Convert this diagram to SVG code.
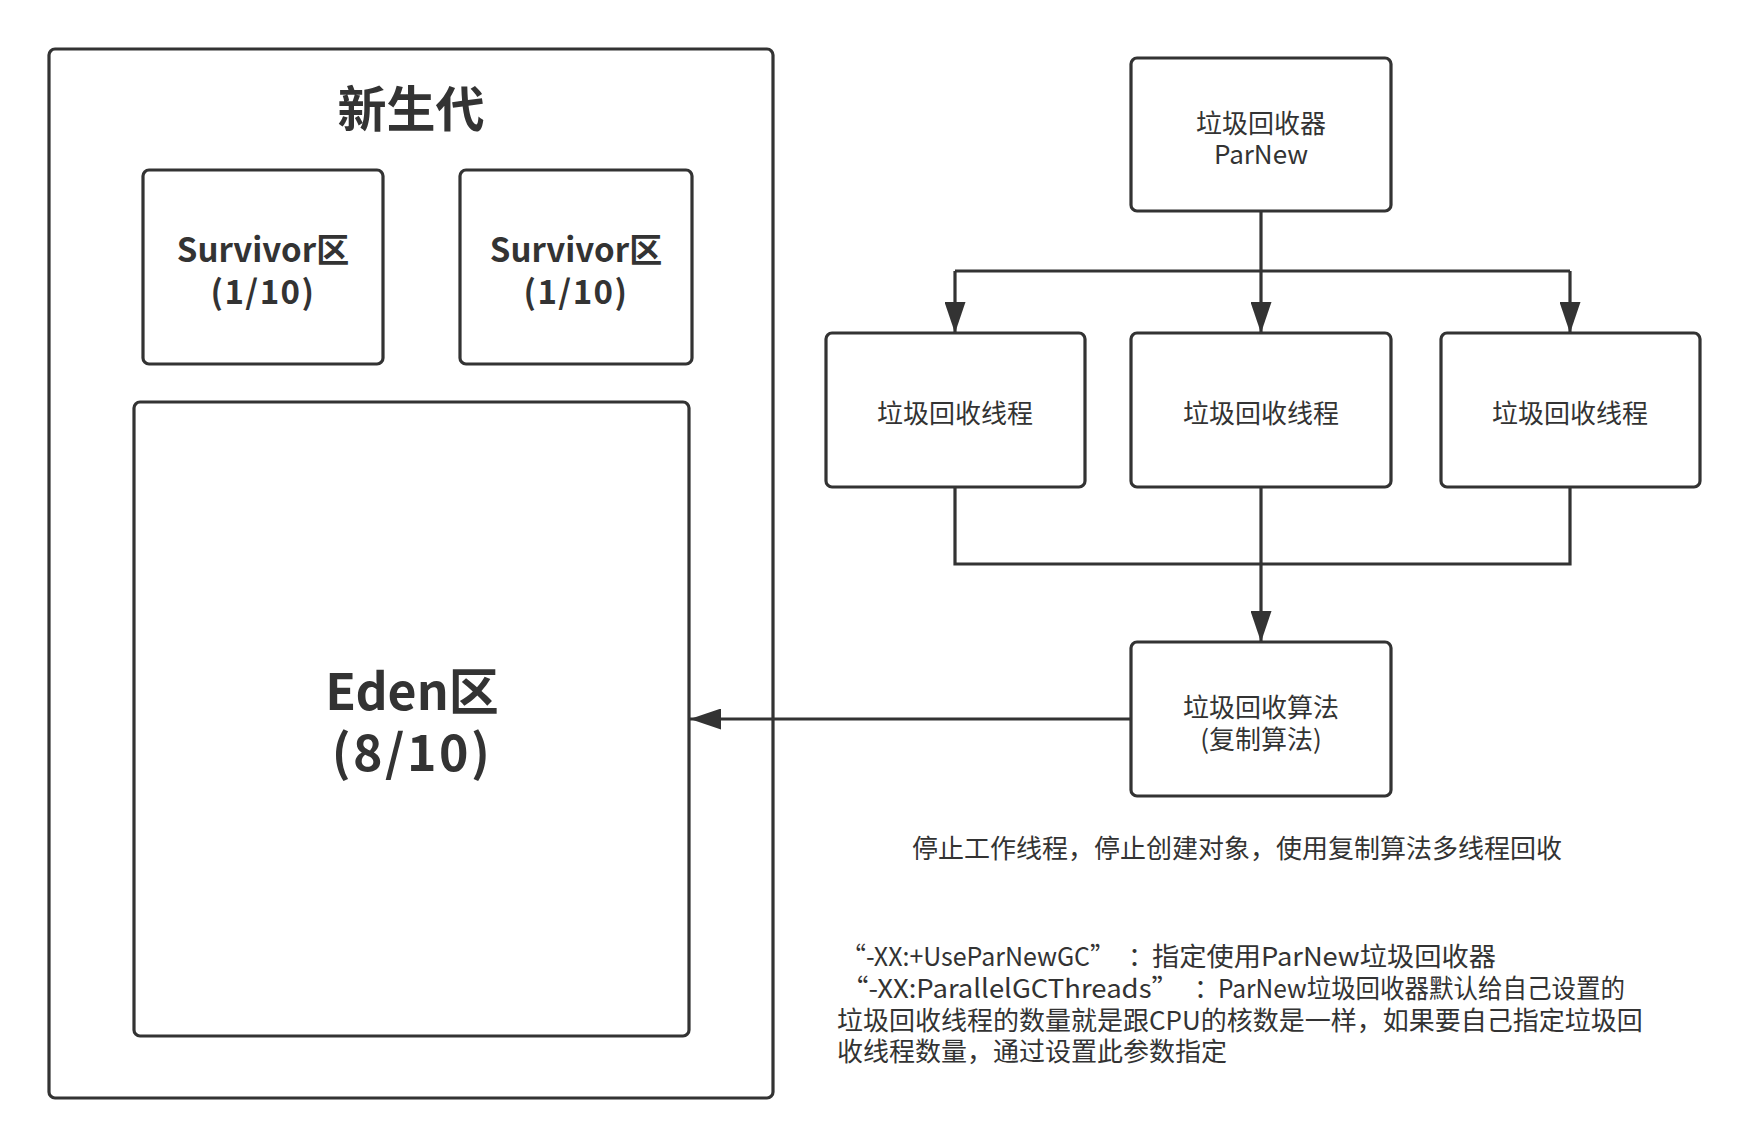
<svg xmlns="http://www.w3.org/2000/svg" width="1750" height="1148" viewBox="0 0 1750 1148">
<style>
.box{fill:#fff;stroke:#333;stroke-width:3.2}
.ln{fill:none;stroke:#333;stroke-width:3.2}
text{font-family:"Noto Sans CJK SC","Microsoft YaHei",sans-serif;fill:#333;text-anchor:middle;dominant-baseline:central}
.b{font-weight:bold}
.n{font-size:26px}
.l{text-anchor:start;font-size:26px}
</style>
<defs>
<marker id="ah" markerUnits="userSpaceOnUse" markerWidth="31" markerHeight="21" refX="31" refY="10.5" orient="auto">
<path d="M0,0 L31,10.5 L0,21 Z" fill="#333"/>
</marker>
</defs>
<rect width="1750" height="1148" fill="#fff"/>
<g id="young">
<rect class="box" x="49" y="49" width="724" height="1049" rx="6"/>
<text class="b" x="411" y="105" font-size="49">新生代</text>
</g>
<g id="survivor1">
<rect class="box" x="143" y="170" width="240" height="194" rx="6"/>
<text class="b" x="263" y="248" font-size="33">Survivor区</text>
<text class="b" x="263" y="290" font-size="33" letter-spacing="1.5">(1/10)</text>
</g>
<g id="survivor2">
<rect class="box" x="460" y="170" width="232" height="194" rx="6"/>
<text class="b" x="576" y="248" font-size="33">Survivor区</text>
<text class="b" x="576" y="290" font-size="33" letter-spacing="1.5">(1/10)</text>
</g>
<g id="eden">
<rect class="box" x="134" y="402" width="555" height="634" rx="6"/>
<text class="b" x="412" y="688" font-size="50">Eden区</text>
<text class="b" x="412" y="749" font-size="50" letter-spacing="2.5">(8/10)</text>
</g>
<g id="parnew">
<rect class="box" x="1131" y="58" width="260" height="153" rx="6"/>
<text class="n" x="1261" y="121">垃圾回收器</text>
<text class="n" x="1261" y="152">ParNew</text>
</g>
<g id="thread1">
<rect class="box" x="826" y="333" width="259" height="154" rx="6"/>
<text class="n" x="955" y="411">垃圾回收线程</text>
</g>
<g id="thread2">
<rect class="box" x="1131" y="333" width="260" height="154" rx="6"/>
<text class="n" x="1261" y="411">垃圾回收线程</text>
</g>
<g id="thread3">
<rect class="box" x="1441" y="333" width="259" height="154" rx="6"/>
<text class="n" x="1570" y="411">垃圾回收线程</text>
</g>
<g id="algo">
<rect class="box" x="1131" y="642" width="260" height="154" rx="6"/>
<text class="n" x="1261" y="705">垃圾回收算法</text>
<text class="n" x="1261" y="737">(复制算法)</text>
</g>
<g id="connectors">
<path class="ln" d="M1261,211 V271"/>
<path class="ln" d="M955,271 H1570"/>
<path class="ln" d="M955,271 V333" marker-end="url(#ah)"/>
<path class="ln" d="M1261,271 V333" marker-end="url(#ah)"/>
<path class="ln" d="M1570,271 V333" marker-end="url(#ah)"/>
<path class="ln" d="M955,487 V564 H1570 V487"/>
<path class="ln" d="M1261,487 V642" marker-end="url(#ah)"/>
<path class="ln" d="M1131,719 H690" marker-end="url(#ah)"/>
</g>
<g id="notes">
<text class="n" x="1237" y="846">停止工作线程，停止创建对象，使用复制算法多线程回收</text>
<text class="l" y="954"><tspan x="841" textLength="274" lengthAdjust="spacingAndGlyphs">“-XX:+UseParNewGC”</tspan><tspan x="1128">：</tspan><tspan x="1152" textLength="344" lengthAdjust="spacingAndGlyphs">指定使用ParNew垃圾回收器</tspan></text>
<text class="l" y="986"><tspan x="841" textLength="338" lengthAdjust="spacingAndGlyphs">“-XX:ParallelGCThreads”</tspan><tspan x="1194">：</tspan><tspan x="1218" textLength="407" lengthAdjust="spacingAndGlyphs">ParNew垃圾回收器默认给自己设置的</tspan></text>
<text class="l" x="837" y="1018">垃圾回收线程的数量就是跟CPU的核数是一样，如果要自己指定垃圾回</text>
<text class="l" x="837" y="1049">收线程数量，通过设置此参数指定</text>
</g>
</svg>
